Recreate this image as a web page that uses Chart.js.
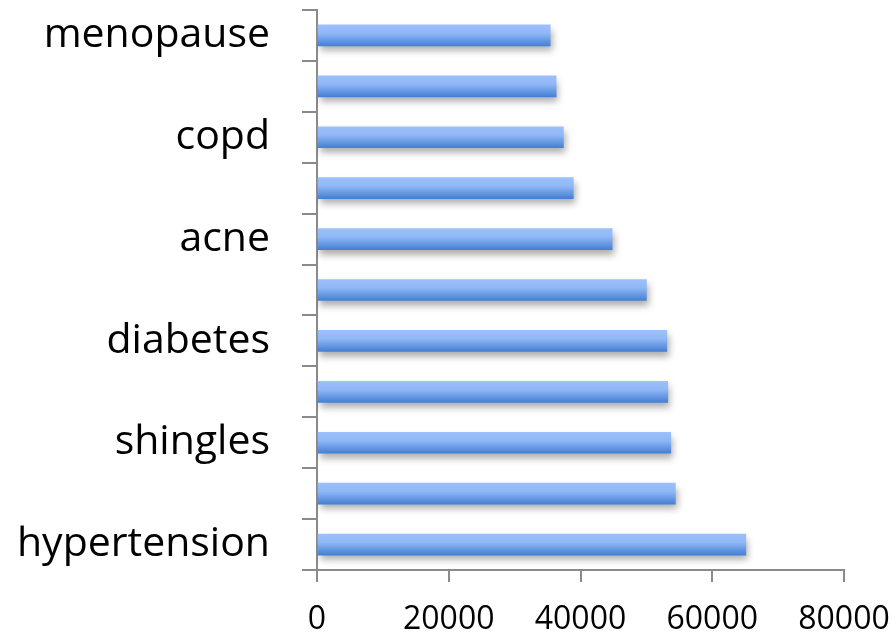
<!DOCTYPE html>
<html>
<head>
<meta charset="utf-8">
<script src="https://cdn.jsdelivr.net/npm/chart.js@4"></script>
<style>
  html, body { margin: 0; padding: 0; background: #fff; }
  #wrap { width: 896px; height: 635px; }
</style>
</head>
<body>
<div id="wrap"><canvas id="chart" width="896" height="635"></canvas></div>
<script>
// conditions, top to bottom (only every other one is labelled)
const conditions = ["menopause", "", "copd", "", "acne", "", "diabetes", "", "shingles", "", "hypertension"];
const counts = [35400, 36300, 37400, 38900, 44800, 50000, 53100, 53250, 53700, 54400, 65100];
const xTicks = [0, 20000, 40000, 60000, 80000];

const axisGray = "#8a8a8a";
const BAR_H = 21;

// vertical blue gradient per bar
function barFill(ctx) {
  const chart = ctx.chart;
  const y = chart.scales.y;
  if (!y || ctx.dataIndex === undefined) return "#6a9be6";
  const mid = y.getPixelForValue(ctx.dataIndex);
  if (!isFinite(mid)) return "#6a9be6";
  const g = chart.ctx.createLinearGradient(0, mid - BAR_H / 2, 0, mid + BAR_H / 2);
  g.addColorStop(0, "#9bc0fb");
  g.addColorStop(0.4, "#90b7f6");
  g.addColorStop(1, "#4480d4");
  return g;
}

// soft drop shadow under the bars
const barShadow = {
  id: "barShadow",
  beforeDatasetsDraw(chart) {
    const c = chart.ctx;
    c.save();
    c.shadowColor = "rgba(0,0,0,0.32)";
    c.shadowBlur = 7;
    c.shadowOffsetX = 2;
    c.shadowOffsetY = 5;
  },
  afterDatasetsDraw(chart) {
    chart.ctx.restore();
  }
};

new Chart(document.getElementById("chart"), {
  type: "bar",
  data: {
    labels: conditions,
    datasets: [{
      data: counts,
      backgroundColor: barFill,
      borderWidth: 0,
      barThickness: BAR_H
    }]
  },
  options: {
    indexAxis: "y",
    responsive: false,
    animation: false,
    layout: { padding: { top: 10, right: 52, left: 0, bottom: 0 } },
    plugins: { legend: { display: false }, tooltip: { enabled: false } },
    scales: {
      x: {
        min: 0,
        max: 80000,
        afterBuildTicks: s => { s.ticks = xTicks.map(v => ({ value: v })); },
        afterFit: s => { s.height = 65; s.paddingLeft = 0; s.paddingRight = 0; },
        border: { color: axisGray, width: 2 },
        grid: { drawOnChartArea: false, color: axisGray, lineWidth: 2, tickLength: 12 },
        ticks: {
          color: "#000",
          padding: 19,
          maxRotation: 0,
          callback: v => String(v),
          font: { family: "Open Sans", size: 32 }
        }
      },
      y: {
        afterFit: s => { s.width = 317; s.paddingTop = 0; s.paddingBottom = 0; },
        border: { color: axisGray, width: 2 },
        grid: { drawOnChartArea: false, color: axisGray, lineWidth: 2, tickLength: 15, offset: true },
        ticks: {
          color: "#000",
          padding: 32,
          autoSkip: false,
          font: { family: "Open Sans", size: 41 }
        }
      }
    }
  },
  plugins: [barShadow]
});
</script>
</body>
</html>
